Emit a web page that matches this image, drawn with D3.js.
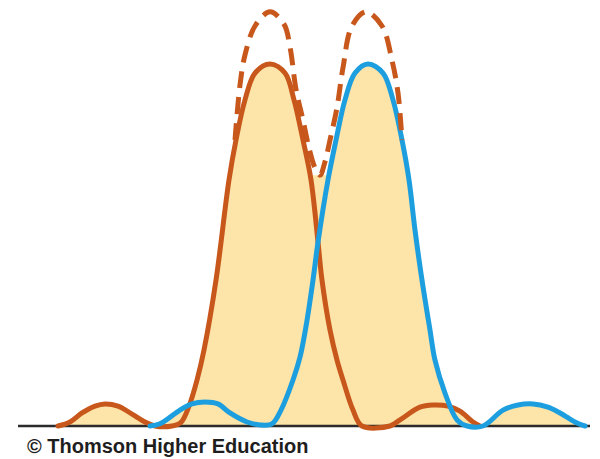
<!DOCTYPE html>
<html>
<head>
<meta charset="utf-8">
<script src="https://cdn.jsdelivr.net/npm/d3@7/dist/d3.min.js"></script>
<style>
  body { margin: 0; background: #fff; }
  svg { display: block; }
</style>
</head>
<body>
<div class="root"></div>
<script>

// angle (in units of the first-minimum spacing) vs relative intensity
var orangeCurve = [
  [-2.10, 0], [-1.98, 0.011], [-1.86, 0.036], [-1.73, 0.055], [-1.63, 0.061],
  [-1.50, 0.055], [-1.36, 0.033], [-1.23, 0.011], [-1.13, 0], [-0.96, 0],
  [-0.87, 0.010], [-0.79, 0.055], [-0.71, 0.127], [-0.64, 0.210], [-0.52, 0.403],
  [-0.39, 0.680], [-0.32, 0.790], [-0.23, 0.901], [-0.13, 0.975], [0.02, 1],
  [0.17, 0.975], [0.26, 0.901], [0.35, 0.790], [0.43, 0.680], [0.50, 0.508],
  [0.54, 0.403], [0.62, 0.265], [0.69, 0.182], [0.75, 0.127], [0.85, 0.044],
  [0.94, 0], [1.22, 0], [1.32, 0.017], [1.52, 0.052], [1.65, 0.058],
  [1.80, 0.055], [1.92, 0.041], [2.05, 0.011], [2.12, 0]
];

var blueCurve = [
  [-1.18, 0], [-1.08, 0.006], [-0.88, 0.044], [-0.76, 0.061], [-0.63, 0.066],
  [-0.50, 0.061], [-0.38, 0.036], [-0.21, 0.011], [-0.08, 0.003], [0.04, 0.006],
  [0.13, 0.044], [0.25, 0.127], [0.32, 0.190], [0.38, 0.275], [0.45, 0.403],
  [0.50, 0.508], [0.60, 0.680], [0.68, 0.790], [0.77, 0.901], [0.87, 0.975],
  [1.00, 1], [1.15, 0.975], [1.25, 0.901], [1.34, 0.790], [1.41, 0.680],
  [1.47, 0.541], [1.54, 0.403], [1.62, 0.265], [1.67, 0.182], [1.77, 0.091],
  [1.89, 0.017], [1.99, 0], [2.15, 0], [2.35, 0.044], [2.50, 0.058],
  [2.65, 0.061], [2.80, 0.052], [2.92, 0.036], [3.09, 0.008], [3.17, 0]
];

// combined (sum) curve, dashed
var sumCurve = [
  [-0.33, 0.790], [-0.28, 0.942], [-0.23, 1.025], [-0.13, 1.105], [0.02, 1.144],
  [0.16, 1.110], [0.22, 1.047], [0.28, 0.930], [0.35, 0.845], [0.41, 0.768],
  [0.47, 0.713], [0.52, 0.693], [0.57, 0.730], [0.62, 0.790], [0.69, 0.880],
  [0.75, 0.990], [0.84, 1.105], [0.98, 1.144], [1.14, 1.105], [1.24, 1.010],
  [1.30, 0.920], [1.34, 0.790]
];

// shading between the two peaks stops at the dip of the sum curve
var dipLevel = [[0.43, 0.693], [0.60, 0.693]];

var axisRange = [-2.5, 3.22];
var credit = "\u00a9 Thomson Higher Education";

var width = 600, height = 459;

var svg = d3.select('.root')
            .append('svg')
            .attr("width", width)
            .attr("height", height);

var x = d3.scaleLinear().domain([-2.68, 3.32]).range([0, 600]);
var y = d3.scaleLinear().domain([0, 1]).range([426, 64]);

var smooth = d3.curveCatmullRom.alpha(0.5);

var area = d3.area()
             .x(function (d) { return x(d[0]); })
             .y0(y(0))
             .y1(function (d) { return y(d[1]); });

var line = d3.line()
             .x(function (d) { return x(d[0]); })
             .y(function (d) { return y(d[1]); })
             .curve(smooth);

var fillColor = "#fde4a9";

[orangeCurve, blueCurve, dipLevel].forEach(function (c) {
  svg.append('path')
     .datum(c)
     .attr("d", area.curve(c === dipLevel ? d3.curveLinear : smooth))
     .attr("fill", fillColor);
});

svg.append('line')
   .attr("x1", x(axisRange[0]))
   .attr("x2", x(axisRange[1]))
   .attr("y1", y(0))
   .attr("y2", y(0))
   .attr("stroke", "#2b2b2b")
   .attr("stroke-width", 2.5);

svg.append('path')
   .datum(orangeCurve)
   .attr("d", line)
   .attr("fill", "none")
   .attr("stroke", "#c8571c")
   .attr("stroke-width", 5)
   .attr("stroke-linecap", "round");

svg.append('path')
   .datum(blueCurve)
   .attr("d", line)
   .attr("fill", "none")
   .attr("stroke", "#1d9fdf")
   .attr("stroke-width", 5)
   .attr("stroke-linecap", "round");

svg.append('path')
   .datum(sumCurve)
   .attr("d", line)
   .attr("fill", "none")
   .attr("stroke", "#c8571c")
   .attr("stroke-width", 5)
   .attr("stroke-dasharray", "17,9");

svg.append('text')
   .attr("x", 27)
   .attr("y", 453)
   .attr("font-family", "Liberation Sans, Arial, sans-serif")
   .attr("font-size", 20)
   .attr("font-weight", "bold")
   .attr("fill", "#1e1e1e")
   .text(credit);

</script>
</body>
</html>
